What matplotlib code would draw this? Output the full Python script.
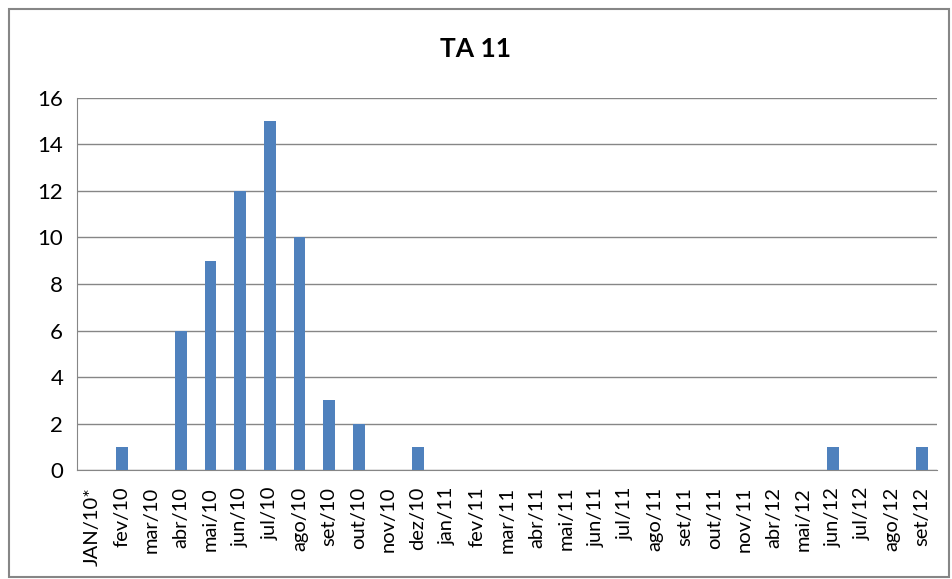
import matplotlib
matplotlib.use('Agg')
import matplotlib.pyplot as plt
from matplotlib.patches import Rectangle

months = ['JAN/10*', 'fev/10', 'mar/10', 'abr/10', 'mai/10', 'jun/10', 'jul/10',
          'ago/10', 'set/10', 'out/10', 'nov/10', 'dez/10', 'jan/11', 'fev/11',
          'mar/11', 'abr/11', 'mai/11', 'jun/11', 'jul/11', 'ago/11', 'set/11',
          'out/11', 'nov/11', 'abr/12', 'mai/12', 'jun/12', 'jul/12', 'ago/12', 'set/12']
values = [0, 1, 0, 6, 9, 12, 15, 10, 3, 2, 0, 1, 0, 0,
          0, 0, 0, 0, 0, 0, 0, 0, 0, 0, 0, 1, 0, 0, 1]

plt.rcParams['font.family'] = ['Lato', 'DejaVu Sans']

fig = plt.figure(figsize=(9.52, 5.79), dpi=100)
ax = fig.add_axes([0.081, 0.188, 0.903, 0.643])

x = range(len(months))
ax.bar(x, values, width=0.4, color='#4F81BD', zorder=3)

ax.set_xlim(-0.5, len(months) - 0.5)
ax.set_ylim(0, 16)
ax.set_yticks(range(0, 17, 2))
ax.set_xticks(list(x))
ax.set_xticklabels(months, rotation=90, fontsize=14.5)
ax.tick_params(axis='y', labelsize=16, length=0, pad=10)
ax.tick_params(axis='x', length=0, pad=12)
ax.yaxis.grid(True, color='#868686', linewidth=1, zorder=0)

for side in ['top', 'right']:
    ax.spines[side].set_visible(False)
ax.spines['left'].set_color('#868686')
ax.spines['bottom'].set_color('#868686')

fig.text(0.5, 0.915, 'TA 11', ha='center', va='center', fontsize=19, fontweight='bold')

fig.patches.append(Rectangle((0.009, 0.004), 0.988, 0.981, transform=fig.transFigure,
                             fill=False, edgecolor='#868686', linewidth=1.5))

fig.savefig('out.png', dpi=100)
